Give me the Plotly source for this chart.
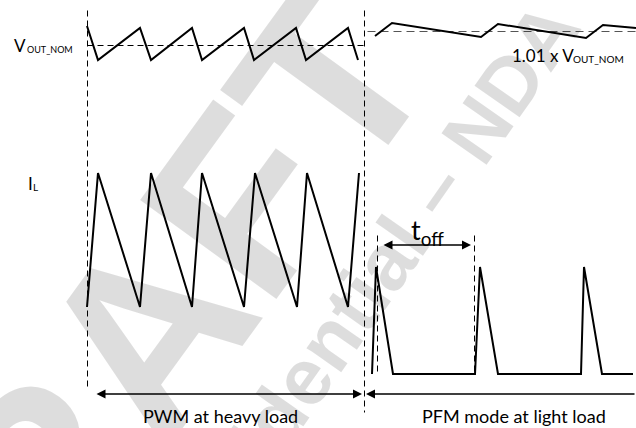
import plotly.graph_objects as go

# Output voltage ripple in PWM mode (heavy load): time vs. level (screen units, y grows downward)
pwm_vout_t = [87, 98, 140, 151, 192, 202, 244, 254, 296, 306, 348, 358]
pwm_vout_v = [26, 60, 28, 60, 28, 60, 28, 60, 28, 60, 28, 60]

# Output voltage in PFM mode (light load), sits around 1.01 x VOUT_NOM
pfm_vout_t = [375, 392, 481, 498, 586, 603, 636]
pfm_vout_v = [36, 23, 37, 24, 38, 25, 28]

# Inductor current, PWM mode
pwm_il_t = [87, 98, 140, 151, 192, 202, 244, 255, 297, 307, 348, 359]
pwm_il_v = [307, 173, 307, 173, 307, 173, 307, 173, 307, 173, 307, 173]

# Inductor current, PFM mode (pulses separated by t_off)
pfm_il_t = [372, 376, 393, 475, 480, 498, 581, 584, 602, 633]
pfm_il_v = [374, 267, 374, 374, 267, 374, 374, 267, 374, 374]

# Reference levels and time markers
vout_nom_level = 45
vout_pfm_level = 31
mode_start_t = 87
mode_switch_t = 364
toff_start_t = 377
toff_end_t = 474

INK = "black"
FONT = "Lato"
WAVE_W = 2
HALF = 0.5  # centre 1px strokes on a pixel row/column

fig = go.Figure()


def dashed(x, y, color=INK, pattern="6px,4px", width=1):
    fig.add_trace(go.Scatter(x=[v + HALF for v in x], y=[v + HALF for v in y],
                             mode="lines", hoverinfo="skip",
                             line=dict(color=color, width=width, dash=pattern)))


# Vertical boundaries
dashed([mode_start_t, mode_start_t], [10, 387])
dashed([mode_switch_t, mode_switch_t], [10, 412])
dashed([toff_start_t, toff_start_t], [235, 374])
dashed([toff_end_t, toff_end_t], [235, 374])

# Horizontal reference levels
dashed([mode_start_t, mode_switch_t], [vout_nom_level, vout_nom_level])
dashed([367, 636], [vout_pfm_level, vout_pfm_level], color="#555555", pattern="8px,5px", width=1)

# Waveforms
for t, v in [(pwm_vout_t, pwm_vout_v), (pfm_vout_t, pfm_vout_v),
             (pwm_il_t, pwm_il_v), (pfm_il_t, pfm_il_v)]:
    fig.add_trace(go.Scatter(x=t, y=v, mode="lines", hoverinfo="skip",
                             line=dict(color=INK, width=WAVE_W)))

ann = []

# Faint background watermark (drawn translucent so the black strokes stay black)
WM = "rgba(0,0,0,0.135)"
ann.append(dict(x=130, y=356, xref="x", yref="y", text="<b>DRAFT</b>", showarrow=False,
                textangle=-54, font=dict(family="Liberation Sans", size=245, color=WM),
                xanchor="center", yanchor="middle"))
ann.append(dict(x=352, y=308, xref="x", yref="y", text="<b>Confidential \u2013 NDA</b>", showarrow=False,
                textangle=-55, font=dict(family="Liberation Sans", size=80, color=WM),
                xanchor="center", yanchor="middle"))


def arrow(x0, x1, y, both=True):
    # head at x1, optional head at x0
    ann.append(dict(x=x1, y=y, ax=x0, ay=y, xref="x", yref="y", axref="x", ayref="y",
                    text="", showarrow=True, arrowhead=2, arrowsize=1.2, arrowwidth=1.5,
                    arrowcolor=INK, arrowside="end+start" if both else "end",
                    startarrowhead=2, startarrowsize=1.2))


arrow(382, 471, 245)
arrow(95, 362, 394)
arrow(636, 366, 394, both=False)


def label(x, y, text, size, anchor="left"):
    ann.append(dict(x=x, y=y, xref="x", yref="y", text=text, showarrow=False,
                    xanchor=anchor, yanchor="middle",
                    font=dict(family=FONT, size=size, color=INK)))


# Signal names: main symbol plus a smaller, lowered subscript
label(12, 45, "V", 17)
label(25, 49, "OUT_NOM", 9)
label(26, 183, "I", 17)
label(31, 187, "L", 10)
label(576, 55, "1.01 x V", 17, anchor="right")
label(571, 59, "OUT_NOM", 10)
label(409, 231, "t<sub>off</sub>", 27)
label(220, 416, "PWM at heavy load", 18, anchor="center")
label(514, 416, "PFM mode at light load", 18, anchor="center")

fig.update_layout(
    width=636, height=428,
    margin=dict(l=0, r=0, t=0, b=0),
    paper_bgcolor="white", plot_bgcolor="white",
    showlegend=False,
    font=dict(color=INK),
    xaxis=dict(range=[0, 636], visible=False, fixedrange=True),
    yaxis=dict(range=[428, 0], visible=False, fixedrange=True),
    annotations=ann,
)

fig.write_html("out.html")
